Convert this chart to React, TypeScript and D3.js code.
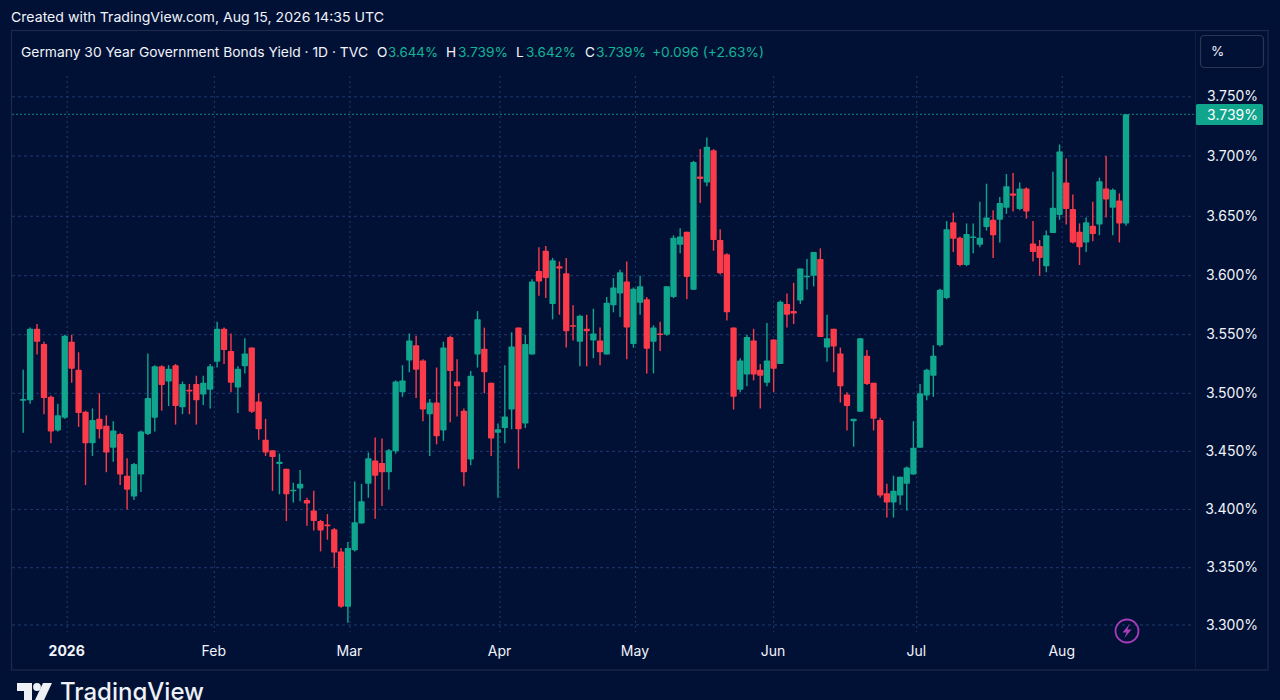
import React from "react";
import * as d3 from "d3";

const opens = [
  3.494,3.494,3.555,3.542,3.497,3.468,3.479,3.544,3.520,3.484,
  3.457,3.478,3.472,3.453,3.465,3.429,3.411,3.430,3.465,3.479,
  3.523,3.510,3.524,3.488,3.503,3.508,3.499,3.503,3.527,3.555,
  3.536,3.505,3.523,3.539,3.493,3.460,3.451,3.439,3.435,3.416,
  3.418,3.408,3.399,3.390,3.387,3.383,3.364,3.316,3.365,3.388,
  3.422,3.442,3.440,3.432,3.450,3.501,3.528,3.541,3.528,3.482,
  3.492,3.468,3.548,3.510,3.485,3.443,3.533,3.538,3.509,3.466,
  3.470,3.486,3.556,3.474,3.533,3.604,3.621,3.576,3.608,3.602,
  3.558,3.544,3.555,3.545,3.545,3.533,3.575,3.585,3.595,3.542,
  3.577,3.580,3.544,3.551,3.550,3.582,3.626,3.637,3.588,3.683,
  3.678,3.705,3.630,3.618,3.556,3.503,3.516,3.545,3.520,3.509,
  3.546,3.525,3.576,3.570,3.579,3.599,3.600,3.614,3.539,3.555,
  3.534,3.499,3.476,3.484,3.532,3.509,3.477,3.414,3.406,3.412,
  3.422,3.430,3.453,3.498,3.515,3.541,3.581,3.645,3.632,3.609,
  3.632,3.626,3.641,3.647,3.647,3.657,3.669,3.656,3.673,3.627,
  3.625,3.608,3.636,3.651,3.678,3.656,3.637,3.628,3.642,3.643,
  3.673,3.657,3.663,3.644,
];
const highs = [
  3.520,3.556,3.559,3.544,3.498,3.491,3.550,3.550,3.535,3.485,
  3.487,3.500,3.481,3.476,3.466,3.444,3.440,3.468,3.534,3.524,
  3.524,3.524,3.525,3.510,3.508,3.515,3.515,3.525,3.561,3.556,
  3.551,3.523,3.547,3.539,3.500,3.478,3.451,3.448,3.435,3.423,
  3.434,3.410,3.416,3.391,3.396,3.384,3.367,3.372,3.424,3.422,
  3.449,3.462,3.461,3.452,3.511,3.524,3.551,3.549,3.529,3.495,
  3.522,3.544,3.549,3.529,3.487,3.519,3.570,3.556,3.509,3.474,
  3.524,3.552,3.556,3.550,3.597,3.624,3.625,3.615,3.612,3.615,
  3.575,3.567,3.567,3.572,3.556,3.582,3.598,3.605,3.612,3.590,
  3.600,3.582,3.558,3.561,3.591,3.634,3.640,3.637,3.696,3.706,
  3.716,3.706,3.639,3.619,3.556,3.530,3.550,3.555,3.525,3.560,
  3.546,3.579,3.585,3.594,3.606,3.614,3.620,3.623,3.567,3.555,
  3.539,3.501,3.478,3.547,3.537,3.509,3.479,3.422,3.429,3.428,
  3.437,3.476,3.508,3.521,3.541,3.589,3.646,3.653,3.633,3.644,
  3.644,3.662,3.677,3.655,3.666,3.685,3.686,3.678,3.674,3.646,
  3.630,3.638,3.687,3.710,3.698,3.668,3.644,3.649,3.662,3.682,
  3.700,3.673,3.669,3.739,
];
const lows = [
  3.466,3.491,3.533,3.482,3.457,3.467,3.478,3.509,3.471,3.421,
  3.446,3.461,3.432,3.441,3.421,3.400,3.408,3.415,3.464,3.467,
  3.485,3.489,3.473,3.482,3.482,3.473,3.490,3.487,3.522,3.525,
  3.501,3.483,3.517,3.483,3.460,3.446,3.416,3.413,3.390,3.406,
  3.407,3.386,3.382,3.364,3.374,3.350,3.315,3.302,3.364,3.388,
  3.410,3.392,3.403,3.417,3.448,3.497,3.518,3.496,3.476,3.446,
  3.456,3.459,3.475,3.480,3.420,3.438,3.522,3.500,3.446,3.410,
  3.457,3.469,3.435,3.470,3.533,3.583,3.581,3.563,3.567,3.539,
  3.545,3.523,3.523,3.530,3.524,3.533,3.569,3.565,3.529,3.539,
  3.567,3.517,3.517,3.536,3.549,3.581,3.619,3.580,3.588,3.661,
  3.675,3.621,3.601,3.562,3.486,3.501,3.506,3.511,3.487,3.506,
  3.501,3.525,3.556,3.559,3.576,3.588,3.591,3.548,3.527,3.518,
  3.492,3.468,3.454,3.484,3.507,3.468,3.410,3.393,3.393,3.404,
  3.399,3.430,3.453,3.494,3.497,3.540,3.580,3.620,3.608,3.608,
  3.619,3.624,3.638,3.615,3.628,3.652,3.654,3.655,3.648,3.612,
  3.600,3.603,3.636,3.647,3.643,3.627,3.609,3.620,3.629,3.634,
  3.649,3.634,3.628,3.642,
];
const closes = [
  3.495,3.555,3.544,3.496,3.467,3.481,3.549,3.521,3.483,3.457,
  3.477,3.469,3.449,3.468,3.430,3.417,3.439,3.467,3.496,3.523,
  3.507,3.521,3.489,3.508,3.502,3.494,3.509,3.523,3.555,3.537,
  3.509,3.521,3.534,3.484,3.469,3.449,3.445,3.441,3.413,3.417,
  3.422,3.405,3.390,3.382,3.386,3.363,3.316,3.367,3.389,3.407,
  3.444,3.429,3.432,3.451,3.510,3.511,3.545,3.520,3.486,3.492,
  3.463,3.539,3.519,3.506,3.432,3.515,3.563,3.518,3.461,3.469,
  3.480,3.540,3.469,3.542,3.595,3.595,3.598,3.613,3.606,3.553,
  3.557,3.566,3.553,3.551,3.535,3.577,3.590,3.603,3.556,3.589,
  3.591,3.538,3.556,3.550,3.591,3.632,3.633,3.599,3.695,3.681,
  3.708,3.630,3.602,3.569,3.497,3.528,3.548,3.516,3.515,3.528,
  3.521,3.578,3.567,3.568,3.606,3.600,3.620,3.548,3.547,3.540,
  3.506,3.489,3.478,3.547,3.508,3.478,3.412,3.406,3.416,3.428,
  3.436,3.453,3.500,3.520,3.532,3.588,3.639,3.631,3.609,3.635,
  3.633,3.632,3.649,3.634,3.661,3.675,3.667,3.673,3.654,3.620,
  3.615,3.634,3.657,3.704,3.656,3.628,3.624,3.645,3.635,3.679,
  3.664,3.672,3.644,3.739,
];

const priceTicks = [3.3, 3.35, 3.4, 3.45, 3.5, 3.55, 3.6, 3.65, 3.7, 3.75];
const monthLabels = ["2026", "Feb", "Mar", "Apr", "May", "Jun", "Jul", "Aug"];
const monthBarPositions = [6.35, 27.6, 47.3, 69.3, 89.3, 110, 131.5, 153.4];
const lastPrice = 3.739;

const legendName = "Germany 30 Year Government Bonds Yield · 1D · TVC";
const legendParts: [string, string][] = [
  ["O", "3.644%"],
  ["H", "3.739%"],
  ["L", "3.642%"],
  ["C", "3.739%"],
];
const legendChange = "+0.096 (+2.63%)";

const UP = "#10a58d";
const UP_TEXT = "#12b497";
const DOWN = "#fb3b4a";
const BG = "#011136";
const GRID = "#1f3a6e";
const FRAME = "#1e2a4a";
const INK = "#f2f4fa";
const FONT = "Inter, 'Noto Sans', sans-serif";

const y = d3
  .scaleLinear()
  .domain([3.3, 3.35, 3.4, 3.45, 3.5, 3.55, 3.6, 3.65, 3.7, 3.72, 3.739, 3.75])
  .range([625, 567.7, 509.4, 451.3, 393.3, 334.7, 275.7, 216.3, 156, 133, 114.3, 96.8]);

const x = d3
  .scaleLinear()
  .domain([0, 39, 82, 119, 163])
  .range([23.2, 293.3, 586.7, 833.7, 1126]);

const legendX = [377, 446, 516, 585];
const legendValueX = [388, 458, 526, 596];

export default function App() {
  const bodyW = 6.3;
  return (
    <svg
      width={1280}
      height={700}
      style={{ position: "fixed", left: 0, top: 0, display: "block", background: BG }}
      fontFamily={FONT}
    >
      <rect x={0} y={0} width={1280} height={700} fill={BG} />
      <text x={11} y={22} fill={INK} fontSize={13.6} textLength={373} lengthAdjust="spacingAndGlyphs">
        Created with TradingView.com, Aug 15, 2026 14:35 UTC
      </text>

      {/* grid */}
      {monthBarPositions.map((b) => (
        <line key={b} x1={x(b)} x2={x(b)} y1={76} y2={632} stroke={GRID} strokeWidth={1} strokeDasharray="2 3" />
      ))}
      {priceTicks.map((p) => (
        <line key={p} x1={12} x2={1194} y1={y(p)} y2={y(p)} stroke={GRID} strokeWidth={1} strokeDasharray="3 3" />
      ))}
      <line x1={12} x2={1196} y1={y(lastPrice)} y2={y(lastPrice)} stroke={UP} strokeWidth={1} strokeDasharray="2 2" opacity={0.8} />

      {/* frame */}
      <rect x={11.5} y={30.5} width={1256.5} height={639.5} fill="none" stroke={FRAME} strokeWidth={1.2} />
      <line x1={1195.5} x2={1195.5} y1={31} y2={670} stroke="#0e1d42" strokeWidth={1} />

      {/* candles */}
      {opens.map((o, i) => {
        const c = closes[i];
        const color = c >= o ? UP : DOWN;
        const top = y(Math.max(o, c));
        const bot = y(Math.min(o, c));
        return (
          <g key={i}>
            <line x1={x(i)} x2={x(i)} y1={y(highs[i])} y2={y(lows[i])} stroke={color} strokeWidth={1.4} />
            <rect x={x(i) - bodyW / 2} y={top} width={bodyW} height={Math.max(bot - top, 1.6)} rx={0.8} fill={color} />
          </g>
        );
      })}

      {/* legend */}
      <text x={21} y={57} fill={INK} fontSize={13.6} textLength={347} lengthAdjust="spacingAndGlyphs">
        {legendName}
      </text>
      {legendParts.map(([k, v], i) => (
        <g key={k} fontSize={13.6}>
          <text x={legendX[i]} y={57} fill={INK}>{k}</text>
          <text x={legendValueX[i]} y={57} fill={UP_TEXT} textLength={50} lengthAdjust="spacingAndGlyphs">{v}</text>
        </g>
      ))}
      <text x={652} y={57} fill={UP_TEXT} fontSize={13.6} textLength={112} lengthAdjust="spacingAndGlyphs">
        {legendChange}
      </text>

      {/* % box */}
      <rect x={1200.5} y={35.5} width={63} height={32} rx={4} fill="none" stroke="#2b3654" strokeWidth={1.2} />
      <text x={1211} y={56} fill={INK} fontSize={13.5}>%</text>

      {/* price axis */}
      {priceTicks.map((p) => (
        <text key={p} x={1258} y={y(p) - 0.4} dy="0.35em" textAnchor="end" fill={INK} fontSize={14}>
          {d3.format(".3f")(p)}%
        </text>
      ))}
      <rect x={1196} y={104} width={67} height={21} rx={1.5} fill={UP} />
      <text x={1258} y={y(lastPrice) + 0.5} dy="0.35em" textAnchor="end" fill="#ffffff" fontSize={14}>
        {d3.format(".3f")(lastPrice)}%
      </text>

      {/* time axis */}
      {monthLabels.map((m, i) => (
        <text
          key={m}
          x={x(monthBarPositions[i]) - 0.5}
          y={656}
          textAnchor="middle"
          fill={INK}
          fontSize={14}
          fontWeight={i === 0 ? 700 : 400}
        >
          {m}
        </text>
      ))}

      {/* lightning badge */}
      <circle cx={1127} cy={631} r={11.5} fill="none" stroke="#a53cb8" strokeWidth={1.8} />
      <path d="M1129.5 624 L1122.5 632.5 H1126.5 L1124.5 638 L1131.5 629.5 H1127.5 Z" fill="#a53cb8" />

      {/* TradingView mark */}
      <path d="M17 683 H32 V700 H24 V691 H17 Z" fill="#eef0f5" />
      <circle cx={37} cy={687} r={3.9} fill="#eef0f5" />
      <path d="M43 683 H52 L44 700 H35 Z" fill="#eef0f5" />
      <text x={60} y={700} fill="#eef0f5" fontSize={24} fontWeight={500} textLength={144} lengthAdjust="spacingAndGlyphs">
        TradingView
      </text>
    </svg>
  );
}
